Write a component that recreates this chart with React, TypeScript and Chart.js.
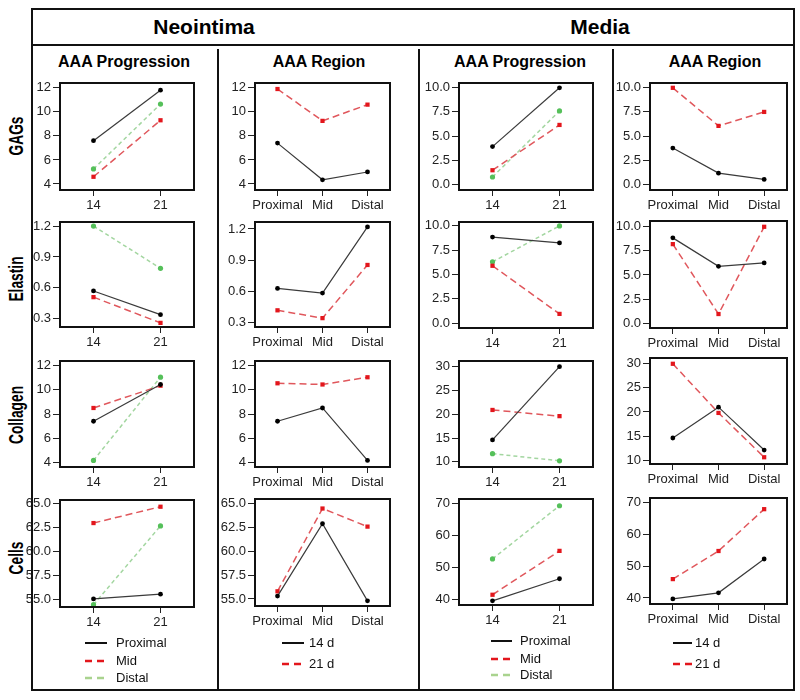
import React, { useEffect, useRef } from "react";
import { Chart, registerables } from "chart.js";
Chart.register(...registerables);

// ---------- categories ----------
const progCats = ["14", "21"];
const regionCats = ["Proximal", "Mid", "Distal"];
const progLegend = ["Proximal", "Mid", "Distal"];
const regionLegend = ["14 d", "21 d"];
const rowLabels = ["GAGs", "Elastin", "Collagen", "Cells"];
const groupTitles = ["Neointima", "Media"];
const colTitles = ["AAA Progression", "AAA Region", "AAA Progression", "AAA Region"];

// ---------- y tick labels ----------
const ticksNeoGags = [4, 6, 8, 10, 12];
const ticksNeoEla = [0.3, 0.6, 0.9, 1.2];
const ticksNeoCol = [4, 6, 8, 10, 12];
const ticksNeoCel = [55, 57.5, 60, 62.5, 65];
const ticksMedGags = [0, 2.5, 5, 7.5, 10];
const ticksMedEla = [0, 2.5, 5, 7.5, 10];
const ticksMedCol = [10, 15, 20, 25, 30];
const ticksMedCel = [40, 50, 60, 70];

// ---------- Neointima: progression (14, 21) ----------
const neoGagsProx = [7.6, 11.8];
const neoGagsMid = [4.6, 9.3];
const neoGagsDist = [5.25, 10.65];
const neoElaProx = [0.57, 0.34];
const neoElaMid = [0.51, 0.26];
const neoElaDist = [1.2, 0.79];
const neoColProx = [7.4, 10.45];
const neoColMid = [8.5, 10.35];
const neoColDist = [4.15, 11.06];
const neoCelProx = [55.1, 55.6];
const neoCelMid = [63.0, 64.7];
const neoCelDist = [54.5, 62.7];

// ---------- Neointima: region (Proximal, Mid, Distal) ----------
const neoGags14d = [7.4, 4.35, 5.0];
const neoGags21d = [11.9, 9.25, 10.6];
const neoEla14d = [0.63, 0.585, 1.22];
const neoEla21d = [0.42, 0.345, 0.855];
const neoCol14d = [7.4, 8.5, 4.15];
const neoCol21d = [10.55, 10.45, 11.05];
const neoCel14d = [55.3, 62.9, 54.8];
const neoCel21d = [55.8, 64.5, 62.6];

// ---------- Media: progression (14, 21) ----------
const medGagsProx = [3.9, 10.0];
const medGagsMid = [1.45, 6.15];
const medGagsDist = [0.75, 7.6];
const medElaProx = [8.85, 8.25];
const medElaMid = [5.9, 0.95];
const medElaDist = [6.3, 10.0];
const medColProx = [14.6, 30.0];
const medColMid = [20.9, 19.6];
const medColDist = [11.7, 10.2];
const medCelProx = [39.7, 46.6];
const medCelMid = [41.6, 55.3];
const medCelDist = [52.8, 69.4];

// ---------- Media: region (Proximal, Mid, Distal) ----------
const medGags14d = [3.75, 1.15, 0.5];
const medGags21d = [10.0, 6.05, 7.5];
const medEla14d = [8.85, 5.9, 6.25];
const medEla21d = [8.2, 0.95, 10.0];
const medCol14d = [14.6, 21.0, 12.1];
const medCol21d = [30.0, 19.8, 10.6];
const medCel14d = [39.7, 41.6, 52.2];
const medCel21d = [45.9, 54.7, 67.8];

const FONT = "'Liberation Sans', Arial, Helvetica, sans-serif";
const PAD_L = 44;
const PAD_T = 10;
const PAD_R = 28;
const X_H = 26;

type Kind = "black" | "red" | "green";
type Series = { kind: Kind; label: string; data: number[] };

const kindStyle: Record<Kind, any> = {
  black: {
    borderColor: "#3a3a3a",
    borderWidth: 1.2,
    borderDash: [],
    pointStyle: "circle",
    pointRadius: 2.4,
    pointBackgroundColor: "#000",
    pointBorderColor: "#000",
  },
  red: {
    borderColor: "#e0575c",
    borderWidth: 1.5,
    borderDash: [7, 4],
    pointStyle: "rect",
    pointRadius: 3,
    pointBackgroundColor: "#e3161c",
    pointBorderColor: "#e3161c",
  },
  green: {
    borderColor: "#a3d6a0",
    borderWidth: 1.5,
    borderDash: [4, 3],
    pointStyle: "circle",
    pointRadius: 2.6,
    pointBackgroundColor: "#55c05a",
    pointBorderColor: "#55c05a",
  },
};

const boxPlugin = {
  id: "boxFrame",
  afterDraw(chart: any) {
    const { ctx, chartArea } = chart;
    ctx.save();
    ctx.strokeStyle = "#111";
    ctx.lineWidth = 2;
    ctx.setLineDash([]);
    ctx.strokeRect(chartArea.left, chartArea.top, chartArea.right - chartArea.left, chartArea.bottom - chartArea.top);
    ctx.restore();
  },
};

type PanelProps = {
  box: [number, number, number, number];
  cats: string[];
  series: Series[];
  yTicks: number[];
  yMin: number;
  yMax: number;
  dec: number;
};

function Panel({ box, cats, series, yTicks, yMin, yMax, dec }: PanelProps) {
  const ref = useRef<HTMLCanvasElement>(null);
  const [L, T, R, B] = box;
  const w = R - L + PAD_L + PAD_R;
  const h = B - T + PAD_T + X_H;
  useEffect(() => {
    const chart = new Chart(ref.current as HTMLCanvasElement, {
      type: "line",
      data: {
        labels: cats,
        datasets: series.map((s) => ({
          label: s.label,
          data: s.data,
          ...kindStyle[s.kind],
          pointBorderWidth: 0,
          fill: false,
          tension: 0,
          clip: false,
        })),
      },
      options: {
        animation: false,
        responsive: false,
        maintainAspectRatio: false,
        devicePixelRatio: 1,
        layout: { padding: { left: 0, top: PAD_T, right: PAD_R, bottom: 0 } },
        plugins: { legend: { display: false }, tooltip: { enabled: false }, title: { display: false } },
        scales: {
          x: {
            type: "category",
            offset: true,
            border: { display: false },
            grid: { drawOnChartArea: false, drawTicks: true, tickLength: 6, color: "#222", lineWidth: 1 },
            ticks: { color: "#222", font: { family: FONT, size: 13 }, padding: 2, maxRotation: 0, autoSkip: false },
            afterFit: (s: any) => {
              s.height = X_H;
            },
          },
          y: {
            type: "linear",
            min: yMin,
            max: yMax,
            border: { display: false },
            grid: { drawOnChartArea: false, drawTicks: true, tickLength: 7, color: "#222", lineWidth: 1 },
            afterBuildTicks: (s: any) => {
              s.ticks = yTicks.map((v) => ({ value: v }));
            },
            ticks: {
              color: "#222",
              font: { family: FONT, size: 13 },
              padding: 2,
              callback: (v: any) => Number(v).toFixed(dec),
            },
            afterFit: (s: any) => {
              s.width = PAD_L;
            },
          },
        },
      },
      plugins: [boxPlugin],
    } as any);
    return () => chart.destroy();
  }, []);
  return (
    <canvas
      ref={ref}
      width={w}
      height={h}
      style={{ position: "absolute", left: L - PAD_L, top: T - PAD_T, width: w, height: h }}
    />
  );
}

const prog = (p: number[], m: number[], d: number[]): Series[] => [
  { kind: "black", label: progLegend[0], data: p },
  { kind: "red", label: progLegend[1], data: m },
  { kind: "green", label: progLegend[2], data: d },
];
const reg = (a: number[], b: number[]): Series[] => [
  { kind: "black", label: regionLegend[0], data: a },
  { kind: "red", label: regionLegend[1], data: b },
];

function Legend({ x, lineX1, lineX2, ys, items, kinds }: { x: number; lineX1: number; lineX2: number; ys: number[]; items: string[]; kinds: Kind[] }) {
  const stroke: Record<Kind, { c: string; dash: string; w: number }> = {
    black: { c: "#111", dash: "", w: 2 },
    red: { c: "#e3161c", dash: "7 5", w: 2.5 },
    green: { c: "#a9d38e", dash: "7 5", w: 2.5 },
  };
  return (
    <>
      {items.map((t, i) => (
        <React.Fragment key={t}>
          <svg style={{ position: "absolute", left: lineX1, top: ys[i] - 3, width: lineX2 - lineX1, height: 6, overflow: "visible" }}>
            <line
              x1={0}
              y1={3}
              x2={lineX2 - lineX1}
              y2={3}
              stroke={stroke[kinds[i]].c}
              strokeWidth={stroke[kinds[i]].w}
              strokeDasharray={stroke[kinds[i]].dash || undefined}
            />
          </svg>
          <div
            style={{
              position: "absolute",
              left: x,
              top: ys[i] - 9,
              height: 18,
              lineHeight: "18px",
              fontFamily: FONT,
              fontSize: 13,
              color: "#111",
              whiteSpace: "nowrap",
            }}
          >
            {t}
          </div>
        </React.Fragment>
      ))}
    </>
  );
}

export default function App() {
  const C1: [number, number] = [60, 194];
  const C2: [number, number] = [255, 390];
  const C3: [number, number] = [459, 593];
  const C4: [number, number] = [650, 787];

  const frameLine = (l: number, t: number, w: number, h: number, key: string) => (
    <div key={key} style={{ position: "absolute", left: l, top: t, width: w, height: h, background: "#111", zIndex: 5 }} />
  );

  const textCenter = (txt: string, cx: number, cy: number, size: number, key: string) => (
    <div
      key={key}
      style={{
        position: "absolute",
        left: cx - 150,
        top: cy - size,
        width: 300,
        height: size * 2,
        lineHeight: `${size * 2}px`,
        textAlign: "center",
        fontFamily: FONT,
        fontWeight: "bold",
        fontSize: size,
        color: "#000",
      }}
    >
      {txt}
    </div>
  );

  const rowLabelCenters = [136, 279, 415, 558];

  return (
    <div style={{ position: "fixed", left: 0, top: 0, width: 800, height: 700, background: "#fff", overflow: "hidden" }}>
      {/* frame */}
      {frameLine(31, 8, 764, 2, "ft")}
      {frameLine(31, 689, 764, 2, "fb")}
      {frameLine(31, 8, 2, 683, "fl")}
      {frameLine(793, 8, 2, 683, "fr")}
      {frameLine(31, 44, 764, 2, "fh")}
      {frameLine(217, 49, 2, 642, "d1")}
      {frameLine(418, 49, 2, 642, "d2")}
      {frameLine(612, 49, 2, 642, "d3")}

      {textCenter(groupTitles[0], 204, 27, 21, "g0")}
      {textCenter(groupTitles[1], 600, 27, 21, "g1")}
      {textCenter(colTitles[0], 124, 62, 16, "c0")}
      {textCenter(colTitles[1], 319, 62, 16, "c1")}
      {textCenter(colTitles[2], 520, 62, 16, "c2")}
      {textCenter(colTitles[3], 715, 62, 16, "c3")}

      {rowLabels.map((r, i) => (
        <div
          key={r}
          style={{
            position: "absolute",
            left: 16 - 60,
            top: rowLabelCenters[i] - 10,
            width: 120,
            height: 20,
            lineHeight: "20px",
            textAlign: "center",
            fontFamily: FONT,
            fontWeight: "bold",
            fontSize: 16,
            transform: "rotate(-90deg) scale(0.86, 1.3)",
            transformOrigin: "60px 10px",
          }}
        >
          {r}
        </div>
      ))}

      {/* Row 1: GAGs */}
      <Panel box={[C1[0], 83, C1[1], 190]} cats={progCats} series={prog(neoGagsProx, neoGagsMid, neoGagsDist)} yTicks={ticksNeoGags} yMin={3.5} yMax={12.4} dec={0} />
      <Panel box={[C2[0], 83, C2[1], 190]} cats={regionCats} series={reg(neoGags14d, neoGags21d)} yTicks={ticksNeoGags} yMin={3.5} yMax={12.4} dec={0} />
      <Panel box={[C3[0], 83, C3[1], 190]} cats={progCats} series={prog(medGagsProx, medGagsMid, medGagsDist)} yTicks={ticksMedGags} yMin={-0.6} yMax={10.5} dec={1} />
      <Panel box={[C4[0], 83, C4[1], 190]} cats={regionCats} series={reg(medGags14d, medGags21d)} yTicks={ticksMedGags} yMin={-0.6} yMax={10.5} dec={1} />

      {/* Row 2: Elastin */}
      <Panel box={[C1[0], 222, C1[1], 327]} cats={progCats} series={prog(neoElaProx, neoElaMid, neoElaDist)} yTicks={ticksNeoEla} yMin={0.22} yMax={1.24} dec={1} />
      <Panel box={[C2[0], 222, C2[1], 327]} cats={regionCats} series={reg(neoEla14d, neoEla21d)} yTicks={ticksNeoEla} yMin={0.26} yMax={1.267} dec={1} />
      <Panel box={[C3[0], 222, C3[1], 328]} cats={progCats} series={prog(medElaProx, medElaMid, medElaDist)} yTicks={ticksMedEla} yMin={-0.5} yMax={10.4} dec={1} />
      <Panel box={[C4[0], 221, C4[1], 328]} cats={regionCats} series={reg(medEla14d, medEla21d)} yTicks={ticksMedEla} yMin={-0.5} yMax={10.6} dec={1} />

      {/* Row 3: Collagen */}
      <Panel box={[C1[0], 361, C1[1], 467]} cats={progCats} series={prog(neoColProx, neoColMid, neoColDist)} yTicks={ticksNeoCol} yMin={3.6} yMax={12.4} dec={0} />
      <Panel box={[C2[0], 361, C2[1], 467]} cats={regionCats} series={reg(neoCol14d, neoCol21d)} yTicks={ticksNeoCol} yMin={3.6} yMax={12.4} dec={0} />
      <Panel box={[C3[0], 361, C3[1], 467]} cats={progCats} series={prog(medColProx, medColMid, medColDist)} yTicks={ticksMedCol} yMin={8.9} yMax={31.2} dec={0} />
      <Panel box={[C4[0], 358, C4[1], 464]} cats={regionCats} series={reg(medCol14d, medCol21d)} yTicks={ticksMedCol} yMin={9.2} yMax={31.2} dec={0} />

      {/* Row 4: Cells */}
      <Panel box={[C1[0], 500, C1[1], 607]} cats={progCats} series={prog(neoCelProx, neoCelMid, neoCelDist)} yTicks={ticksNeoCel} yMin={54.26} yMax={65.4} dec={1} />
      <Panel box={[C2[0], 499, C2[1], 606]} cats={regionCats} series={reg(neoCel14d, neoCel21d)} yTicks={ticksNeoCel} yMin={54.26} yMax={65.5} dec={1} />
      <Panel box={[C3[0], 499, C3[1], 605]} cats={progCats} series={prog(medCelProx, medCelMid, medCelDist)} yTicks={ticksMedCel} yMin={38.4} yMax={71.5} dec={0} />
      <Panel box={[C4[0], 498, C4[1], 604]} cats={regionCats} series={reg(medCel14d, medCel21d)} yTicks={ticksMedCel} yMin={38.1} yMax={71.3} dec={0} />

      {/* Legends */}
      <Legend x={116} lineX1={85} lineX2={107} ys={[643, 661, 678]} items={progLegend} kinds={["black", "red", "green"]} />
      <Legend x={309} lineX1={282} lineX2={304} ys={[643, 664]} items={regionLegend} kinds={["black", "red"]} />
      <Legend x={520} lineX1={491} lineX2={512} ys={[641, 659, 675]} items={progLegend} kinds={["black", "red", "green"]} />
      <Legend x={695} lineX1={673} lineX2={692} ys={[643, 664]} items={regionLegend} kinds={["black", "red"]} />
    </div>
  );
}
